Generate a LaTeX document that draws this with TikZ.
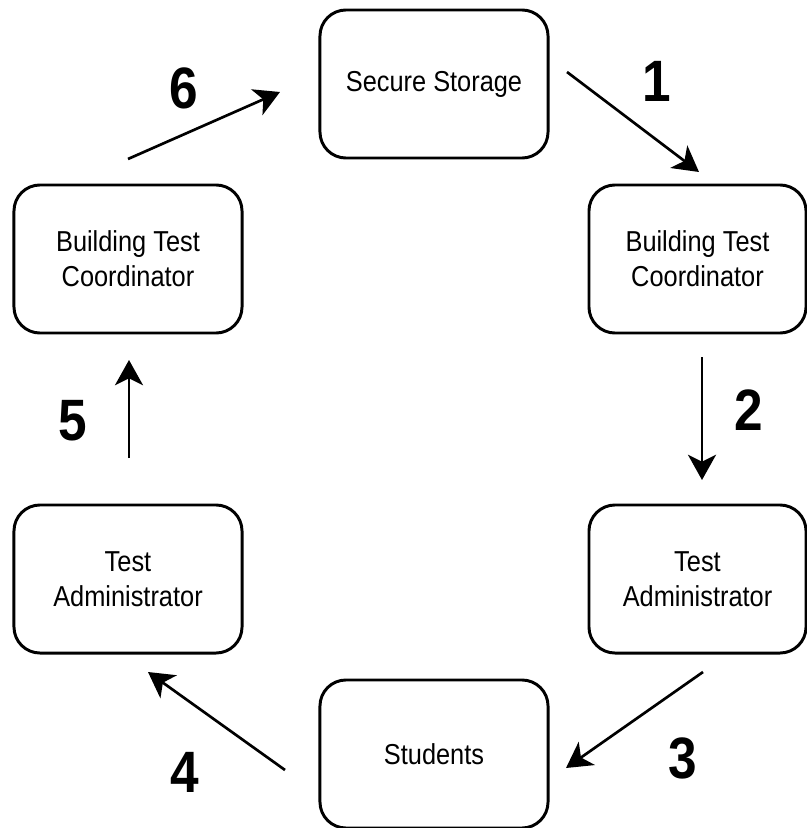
\documentclass[tikz,border=0pt]{standalone}
\usepackage{fontspec}
\setmainfont[FakeStretch=0.88]{Liberation Sans}
\usetikzlibrary{arrows.meta}
\begin{document}
\begin{tikzpicture}[x=0.025cm,y=-0.025cm]
% Styles
\tikzstyle{stage box}=[draw,line width=2.1pt,rounded corners=0.65cm,minimum width=5.7cm,minimum height=3.7cm,align=center,font=\fontsize{20.5}{24.8}\selectfont]
\tikzstyle{stage arrow}=[line width=1.9pt,-{Stealth[length=18pt,width=20pt,inset=5pt]}]
\tikzstyle{stage number}=[font=\fontsize{41.5}{41.5}\selectfont\bfseries]

\useasboundingbox (0,0) rectangle (807,828);

% draw the nodes
\node[stage box] (storage) at (434,84) {Secure Storage};
\node[stage box,minimum width=5.425cm] (btcR) at (697.5,259) {Building Test\\Coordinator};
\node[stage box,minimum width=5.425cm] (taR) at (697.5,579) {Test\\Administrator};
\node[stage box] (students) at (434,754) {Students};
\node[stage box] (taL) at (128,579) {Test\\Administrator};
\node[stage box] (btcL) at (128,259) {Building Test\\Coordinator};

% the arrows and their numbers
\foreach \n / \xa / \ya / \xb / \yb / \xn / \yn in {1/567/72/699/172/657/81,
2/702/357/702/480/749/410, 3/703/672/566/768/683/758,
4/285/770/148/672/185/772, 5/129/458/129/360/73/421,
6/128/159/280/92/184/88} {
\coordinate (s\n) at (\xa,\ya);
\coordinate (e\n) at (\xb,\yb);
\draw[stage arrow] (s\n) -- (e\n);
\node[stage number] (n\n) at (\xn,\yn) {\n};
}

\end{tikzpicture}
\end{document}
